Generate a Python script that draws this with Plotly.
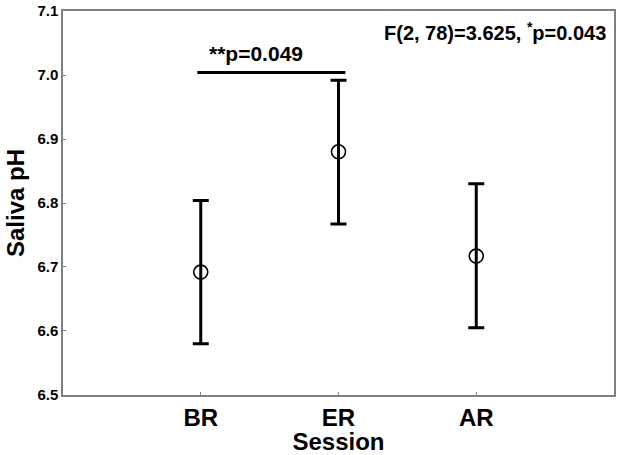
import plotly.graph_objects as go

# Data
sessions = ['BR', 'ER', 'AR']
session_pos = [1, 2, 3]
mean_ph = [6.692, 6.880, 6.717]
upper_ph = [6.804, 6.992, 6.830]
lower_ph = [6.580, 6.767, 6.605]
y_ticks = [6.5, 6.6, 6.7, 6.8, 6.9, 7.0, 7.1]

err_plus = [u - m for u, m in zip(upper_ph, mean_ph)]
err_minus = [m - l for m, l in zip(mean_ph, lower_ph)]

# significance bar between BR and ER
sig_x = [0.975, 2.05]
sig_y = [7.004, 7.004]
AXIS_COLOR = '#808080'
FONT = 'Liberation Sans, Arial, sans-serif'

fig = go.Figure()

fig.add_trace(go.Scatter(
    x=session_pos,
    y=mean_ph,
    mode='markers',
    marker=dict(symbol='circle-open', size=14, color='black', line=dict(width=1.6, color='black')),
    error_y=dict(type='data', symmetric=False, array=err_plus, arrayminus=err_minus,
                 color='black', thickness=3, width=8),
    showlegend=False,
))

fig.add_trace(go.Scatter(
    x=sig_x, y=sig_y, mode='lines',
    line=dict(color='black', width=3),
    showlegend=False, hoverinfo='skip',
))

fig.add_annotation(
    x=1.40, y=7.012, xref='x', yref='y', yanchor='bottom',
    text='<b>**p=0.049</b>', showarrow=False,
    font=dict(family=FONT, size=21, color='black'),
)
fig.add_annotation(
    x=0.99, y=0.985, xref='paper', yref='paper', xanchor='right', yanchor='top',
    text='<b>F(2, 78)=3.625, <sup>*</sup>p=0.043</b>', showarrow=False,
    font=dict(family=FONT, size=20, color='black'),
)

fig.update_layout(
    width=620, height=455,
    paper_bgcolor='white', plot_bgcolor='white',
    margin=dict(l=63, r=6, t=11, b=60, autoexpand=False),
    font=dict(family=FONT, color='black'),
    xaxis=dict(
        range=[0, 4], tickvals=session_pos, ticktext=[f'<b>{s}</b>' for s in sessions],
        tickfont=dict(size=24, family=FONT), ticks='inside', ticklen=3, tickcolor=AXIS_COLOR,
        showline=True, linecolor=AXIS_COLOR, linewidth=1.5, mirror=True, showgrid=False,
        zeroline=False, automargin=False,
        title=dict(text='<b>Session</b>', font=dict(size=24, family=FONT), standoff=0),
    ),
    yaxis=dict(
        range=[6.4999, 7.1001], tickvals=y_ticks, ticktext=[f'<b>{v:.1f}</b>' for v in y_ticks],
        tickfont=dict(size=15, family=FONT), ticks='inside', ticklen=3, tickcolor=AXIS_COLOR,
        showline=True, linecolor=AXIS_COLOR, linewidth=1.5, mirror=True, showgrid=False,
        zeroline=False, automargin=False, ticklabeloverflow='allow',
        title=dict(text='<b>Saliva pH</b>', font=dict(size=24, family=FONT), standoff=6),
    ),
)

# drop the default 8px page margin so the figure fills the window
fig.write_html('out.html', config={'displayModeBar': False},
               post_script="document.body.style.margin='0';")
